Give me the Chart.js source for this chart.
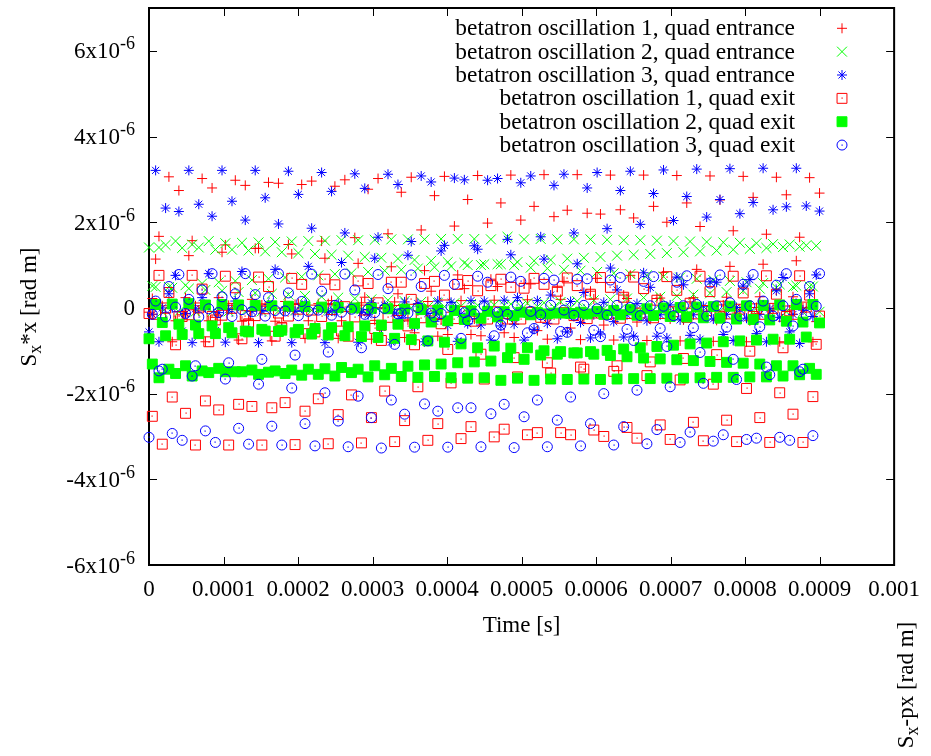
<!DOCTYPE html>
<html>
<head>
<meta charset="utf-8">
<style>
  html, body { margin: 0; padding: 0; background: #fff; }
  canvas { display: block; }
</style>
<script src="https://cdn.jsdelivr.net/npm/chart.js@4.4.1/dist/chart.umd.min.js"></script>
</head>
<body>
<canvas id="chart" width="931" height="756"></canvas>
<script>
// time between two recorded turns [s]; the value arrays are in units of 1e-6 rad m
const DT = 4.455e-6;
const Y_UNIT = 1e-6;

const X_TICKS = [0, 0.0001, 0.0002, 0.0003, 0.0004, 0.0005, 0.0006, 0.0007, 0.0008, 0.0009, 0.001];
const X_TICK_LABELS = ['0', '0.0001', '0.0002', '0.0003', '0.0004', '0.0005', '0.0006', '0.0007', '0.0008', '0.0009', '0.001'];
const Y_TICKS = [-6e-6, -4e-6, -2e-6, 0, 2e-6, 4e-6, 6e-6];
const Y_TICK_MANTISSAS = ['-6', '-4', '-2', '0', '2', '4', '6'];
const Y_TICK_EXPONENT = '-6';

const SERIES_NAMES = [
  'betatron oscillation 1, quad entrance',
  'betatron oscillation 2, quad entrance',
  'betatron oscillation 3, quad entrance',
  'betatron oscillation 1, quad exit',
  'betatron oscillation 2, quad exit',
  'betatron oscillation 3, quad exit'
];

// one turn per value, 10 turns per line
const ENTRANCE_1 = [
  -0.10, 0.22, 1.14, 1.67, 0.05, -0.12, 3.06, -0.79, -0.30, 2.74,
  -0.16, 0.24, 1.22, 1.57, 0.05, -0.07, 3.02, -0.79, -0.30, 2.80,
  -0.22, 0.24, 1.30, 1.47, 0.06, -0.02, 2.98, -0.75, -0.31, 2.86,
  -0.28, 0.20, 1.39, 1.39, 0.07, 0.04, 2.93, -0.77, -0.31, 2.91,
  -0.35, 0.15, 1.48, 1.26, 0.08, 0.10, 2.88, -0.71, -0.30, 2.96,
  -0.41, 0.10, 1.56, 1.16, 0.10, 0.17, 2.84, -0.71, -0.30, 2.99,
  -0.47, 0.04, 1.64, 1.04, 0.12, 0.25, 2.77, -0.73, -0.29, 3.02,
  -0.52, -0.02, 1.73, 0.96, 0.14, 0.33, 2.70, -0.69, -0.28, 3.05,
  -0.58, -0.07, 1.82, 0.87, 0.15, 0.39, 2.62, -0.66, -0.27, 3.07,
  -0.62, -0.10, 1.91, 0.77, 0.17, 0.45, 2.53, -0.62, -0.26, 3.09,
  -0.65, -0.13, 1.98, 0.67, 0.18, 0.50, 2.45, -0.58, -0.25, 3.10,
  -0.69, -0.16, 2.05, 0.57, 0.19, 0.56, 2.37, -0.53, -0.23, 3.11,
  -0.73, -0.19, 2.13, 0.48, 0.20, 0.62, 2.28, -0.47, -0.20, 3.11,
  -0.74, -0.22, 2.21, 0.39, 0.21, 0.69, 2.19, -0.40, -0.17, 3.10,
  -0.75, -0.24, 2.29, 0.30, 0.22, 0.76, 2.10, -0.33, -0.14, 3.10,
  -0.76, -0.26, 2.37, 0.22, 0.23, 0.83, 2.00, -0.26, -0.11, 3.09,
  -0.77, -0.28, 2.45, 0.14, 0.24, 0.90, 1.90, -0.19, -0.08, 3.08,
  -0.78, -0.29, 2.52, 0.07, 0.25, 0.97, 1.80, -0.12, -0.05, 3.07,
  -0.79, -0.30, 2.58, 0.01, 0.26, 1.02, 1.72, -0.06, -0.02, 3.05,
  -0.79, -0.31, 2.64, -0.05, 0.26, 1.10, 1.65, 0.00, 0.00, 3.04,
  -0.79, -0.32, 2.68
];

const ENTRANCE_2 = [
  1.41, 0.51, 0.49, 1.41, -0.09, 1.47, 0.49, 0.47, 1.56, -0.09,
  1.40, 0.53, 0.45, 1.48, -0.09, 1.41, 0.57, 0.42, 1.56, -0.09,
  1.36, 0.60, 0.40, 1.51, -0.08, 1.36, 0.63, 0.37, 1.52, -0.08,
  1.34, 0.65, 0.35, 1.53, -0.08, 1.32, 0.68, 0.33, 1.54, -0.07,
  1.30, 0.71, 0.31, 1.55, -0.06, 1.28, 0.73, 0.28, 1.56, -0.06,
  1.26, 0.76, 0.26, 1.57, -0.05, 1.24, 0.79, 0.24, 1.58, -0.04,
  1.22, 0.81, 0.22, 1.58, -0.03, 1.19, 0.84, 0.20, 1.59, -0.02,
  1.17, 0.87, 0.18, 1.60, -0.01, 1.15, 0.89, 0.16, 1.60, 0.00,
  1.12, 0.92, 0.14, 1.60, 0.02, 1.10, 0.95, 0.12, 1.61, 0.03,
  1.07, 0.97, 0.11, 1.61, 0.04, 1.05, 1.00, 0.09, 1.61, 0.06,
  1.00, 1.02, 0.07, 1.60, 0.07, 1.02, 1.02, 0.06, 1.66, 0.09,
  1.00, 1.07, 0.04, 1.60, 0.11, 0.94, 1.10, 0.03, 1.61, 0.12,
  0.92, 1.12, 0.02, 1.60, 0.14, 0.89, 1.15, 0.00, 1.60, 0.16,
  0.87, 1.17, -0.01, 1.60, 0.18, 0.84, 1.19, -0.02, 1.59, 0.20,
  0.81, 1.22, -0.03, 1.58, 0.22, 0.79, 1.24, -0.04, 1.58, 0.24,
  0.76, 1.26, -0.05, 1.57, 0.26, 0.73, 1.28, -0.06, 1.56, 0.28,
  0.71, 1.30, -0.06, 1.55, 0.31, 0.68, 1.32, -0.07, 1.54, 0.34,
  0.65, 1.34, -0.08, 1.53, 0.37, 0.63, 1.36, -0.08, 1.52, 0.40,
  0.60, 1.38, -0.08, 1.51, 0.45, 0.58, 1.40, -0.09, 1.49, 0.47,
  0.55, 1.42, -0.09, 1.48, 0.49, 0.52, 1.43, -0.09, 1.46, 0.50,
  0.50, 1.45, -0.09
];

const ENTRANCE_3 = [
  -0.56, -0.15, 3.21, -0.79, 0.00, 2.33, 0.33, 0.00, 0.76, 2.25,
  -0.54, -0.13, 3.21, -0.81, -0.02, 2.42, 0.24, 0.02, 0.80, 2.14,
  -0.53, -0.11, 3.21, -0.80, -0.04, 2.49, 0.16, 0.04, 0.85, 2.05,
  -0.52, -0.08, 3.21, -0.81, -0.06, 2.57, 0.08, 0.06, 0.90, 1.96,
  -0.50, -0.05, 3.19, -0.81, -0.08, 2.65, 0.00, 0.08, 0.97, 1.86,
  -0.49, -0.02, 3.16, -0.81, -0.10, 2.72, -0.08, 0.10, 1.06, 1.75,
  -0.47, 0.02, 3.13, -0.80, -0.11, 2.79, -0.16, 0.12, 1.16, 1.65,
  -0.45, 0.06, 3.12, -0.80, -0.12, 2.88, -0.24, 0.14, 1.23, 1.55,
  -0.43, 0.10, 3.08, -0.79, -0.13, 2.94, -0.31, 0.16, 1.33, 1.46,
  -0.41, 0.13, 3.03, -0.78, -0.14, 2.99, -0.37, 0.17, 1.45, 1.37,
  -0.40, 0.16, 2.98, -0.75, -0.15, 3.02, -0.42, 0.18, 1.60, 1.24,
  -0.38, 0.24, 2.92, -0.75, -0.15, 3.08, -0.50, 0.17, 1.66, 1.14,
  -0.36, 0.30, 2.86, -0.72, -0.16, 3.12, -0.56, 0.15, 1.75, 1.03,
  -0.34, 0.36, 2.80, -0.70, -0.16, 3.16, -0.61, 0.13, 1.85, 0.93,
  -0.32, 0.42, 2.74, -0.68, -0.16, 3.19, -0.66, 0.10, 1.95, 0.82,
  -0.30, 0.48, 2.67, -0.66, -0.16, 3.22, -0.70, 0.07, 2.04, 0.72,
  -0.28, 0.54, 2.60, -0.64, -0.16, 3.24, -0.73, 0.04, 2.12, 0.61,
  -0.26, 0.60, 2.53, -0.62, -0.15, 3.25, -0.76, 0.01, 2.20, 0.51,
  -0.24, 0.66, 2.46, -0.60, -0.15, 3.26, -0.79, -0.02, 2.29, 0.40,
  -0.22, 0.71, 2.36, -0.56, -0.15, 3.26, -0.83, -0.05, 2.38, 0.33,
  -0.20, 0.77, 2.26
];

const EXIT_1 = [
  -0.13, -2.53, -0.15, 0.76, -3.18, 0.00, 0.36, -2.08, -0.86, -0.20,
  -0.20, -2.46, -0.16, 0.76, -3.20, 0.00, 0.44, -2.17, -0.79, -0.20,
  -0.28, -2.38, -0.17, 0.74, -3.20, -0.01, 0.47, -2.25, -0.72, -0.18,
  -0.37, -2.30, -0.18, 0.72, -3.20, -0.02, 0.50, -2.33, -0.66, -0.12,
  -0.46, -2.21, -0.19, 0.69, -3.19, -0.03, 0.55, -2.41, -0.60, -0.05,
  -0.56, -2.12, -0.20, 0.67, -3.17, -0.04, 0.54, -2.49, -0.54, 0.03,
  -0.66, -2.03, -0.21, 0.63, -3.15, -0.05, 0.57, -2.56, -0.48, 0.12,
  -0.76, -1.94, -0.22, 0.60, -3.12, -0.06, 0.60, -2.63, -0.42, 0.20,
  -0.86, -1.84, -0.23, 0.57, -3.09, -0.07, 0.62, -2.70, -0.37, 0.30,
  -0.97, -1.75, -0.25, 0.55, -3.05, -0.08, 0.64, -2.77, -0.31, 0.40,
  -1.08, -1.66, -0.26, 0.52, -3.01, -0.09, 0.67, -2.83, -0.26, 0.48,
  -1.16, -1.61, -0.26, 0.46, -2.96, -0.10, 0.69, -2.91, -0.22, 0.55,
  -1.28, -1.52, -0.26, 0.39, -2.91, -0.11, 0.70, -2.96, -0.18, 0.52,
  -1.38, -1.43, -0.25, 0.32, -2.85, -0.12, 0.71, -3.00, -0.15, 0.48,
  -1.48, -1.35, -0.24, 0.25, -2.79, -0.13, 0.72, -3.04, -0.12, 0.45,
  -1.58, -1.26, -0.23, 0.18, -2.73, -0.13, 0.73, -3.07, -0.09, 0.41,
  -1.68, -1.18, -0.22, 0.11, -2.67, -0.14, 0.74, -3.10, -0.06, 0.38,
  -1.78, -1.09, -0.21, 0.04, -2.62, -0.14, 0.74, -3.12, -0.03, 0.35,
  -1.88, -1.01, -0.20, -0.02, -2.56, -0.15, 0.75, -3.14, -0.01, 0.32,
  -1.98, -0.93, -0.20, -0.07, -2.48, -0.15, 0.75, -3.14, 0.02, 0.30,
  -2.07, -0.85, -0.19
];

const EXIT_2 = [
  -0.72, -1.31, 0.08, -1.63, -0.34, -0.65, -1.43, 0.09, -1.53, -0.38,
  -0.62, -1.35, 0.10, -1.59, -0.40, -0.60, -1.47, 0.07, -1.51, -0.42,
  -0.60, -1.41, 0.08, -1.49, -0.46, -0.58, -1.49, 0.07, -1.49, -0.54,
  -0.56, -1.45, 0.06, -1.55, -0.50, -0.54, -1.50, 0.05, -1.47, -0.55,
  -0.52, -1.53, 0.04, -1.45, -0.58, -0.50, -1.57, 0.03, -1.43, -0.61,
  -0.48, -1.55, 0.02, -1.42, -0.63, -0.46, -1.59, 0.01, -1.39, -0.65,
  -0.44, -1.51, 0.00, -1.43, -0.67, -0.42, -1.61, -0.01, -1.35, -0.69,
  -0.40, -1.56, -0.02, -1.41, -0.71, -0.38, -1.60, -0.03, -1.36, -0.74,
  -0.36, -1.62, -0.04, -1.33, -0.77, -0.33, -1.60, -0.05, -1.31, -0.80,
  -0.30, -1.63, -0.06, -1.28, -0.84, -0.27, -1.64, -0.07, -1.26, -0.93,
  -0.24, -1.63, -0.08, -1.24, -0.89, -0.21, -1.69, -0.09, -1.16, -0.94,
  -0.18, -1.64, -0.10, -1.20, -0.93, -0.16, -1.69, -0.11, -1.10, -1.00,
  -0.14, -1.66, -0.12, -1.08, -1.02, -0.12, -1.67, -0.13, -1.05, -1.05,
  -0.10, -1.66, -0.14, -1.02, -1.08, -0.08, -1.67, -0.15, -0.99, -1.11,
  -0.06, -1.66, -0.16, -0.96, -1.14, -0.04, -1.65, -0.17, -0.93, -1.17,
  -0.02, -1.65, -0.18, -0.90, -1.19, 0.00, -1.64, -0.20, -0.87, -1.21,
  0.01, -1.64, -0.21, -0.84, -1.23, 0.02, -1.63, -0.23, -0.82, -1.25,
  0.03, -1.62, -0.24, -0.79, -1.27, 0.04, -1.62, -0.26, -0.77, -1.29,
  0.05, -1.61, -0.27, -0.75, -1.31, 0.06, -1.61, -0.28, -0.73, -1.35,
  0.07, -1.59, -0.31, -0.73, -1.35, 0.08, -1.56, -0.33, -0.68, -1.41,
  0.08, -1.55, -0.35
];

const EXIT_3 = [
  -3.02, -0.15, 0.16, -1.47, -1.43, -0.21, 0.50, -2.93, 0.02, 0.78,
  -3.09, -0.13, 0.20, -1.59, -1.35, -0.21, 0.42, -2.87, -0.02, 0.80,
  -3.14, -0.11, 0.26, -1.66, -1.28, -0.20, 0.33, -2.81, -0.04, 0.80,
  -3.18, -0.09, 0.31, -1.78, -1.20, -0.19, 0.24, -2.76, -0.06, 0.80,
  -3.20, -0.07, 0.35, -1.87, -1.10, -0.18, 0.15, -2.70, -0.08, 0.79,
  -3.22, -0.05, 0.39, -1.98, -1.03, -0.17, 0.06, -2.64, -0.10, 0.79,
  -3.24, -0.03, 0.42, -2.06, -0.93, -0.15, -0.03, -2.56, -0.11, 0.78,
  -3.27, -0.01, 0.45, -2.15, -0.85, -0.14, -0.12, -2.48, -0.12, 0.77,
  -3.25, 0.01, 0.50, -2.24, -0.77, -0.12, -0.21, -2.41, -0.13, 0.76,
  -3.25, 0.03, 0.55, -2.33, -0.71, -0.11, -0.30, -2.33, -0.14, 0.74,
  -3.24, 0.05, 0.60, -2.47, -0.65, -0.10, -0.40, -2.25, -0.15, 0.72,
  -3.26, 0.06, 0.62, -2.54, -0.58, -0.08, -0.48, -2.15, -0.16, 0.69,
  -3.24, 0.06, 0.65, -2.62, -0.55, -0.05, -0.57, -2.08, -0.17, 0.67,
  -3.22, 0.06, 0.68, -2.70, -0.52, -0.02, -0.67, -2.00, -0.17, 0.65,
  -3.20, 0.06, 0.71, -2.77, -0.50, 0.01, -0.76, -1.92, -0.18, 0.62,
  -3.17, 0.05, 0.73, -2.84, -0.48, 0.04, -0.90, -1.84, -0.18, 0.60,
  -3.14, 0.05, 0.75, -2.90, -0.46, 0.08, -1.04, -1.76, -0.19, 0.58,
  -3.11, 0.05, 0.77, -2.96, -0.45, 0.12, -1.20, -1.67, -0.19, 0.55,
  -3.07, 0.05, 0.78, -3.04, -0.44, 0.16, -1.38, -1.56, -0.19, 0.53,
  -3.02, 0.05, 0.80, -3.09, -0.42, 0.20, -1.49, -1.43, -0.17, 0.50,
  -2.98, 0.04, 0.80
];

const FONT = "'Liberation Serif', 'Times New Roman', serif";

function toPoints(values) {
  return values.map((v, i) => ({ x: i * DT, y: v * Y_UNIT }));
}

// open box / open circle get a small dot in the middle, like gnuplot's point types 4 and 6 with dots
const datasets = [
  { data: toPoints(ENTRANCE_1), pointStyle: 'cross', pointRadius: 5, borderColor: '#ff0000', backgroundColor: '#ff0000', order: 6 },
  { data: toPoints(ENTRANCE_2), pointStyle: 'crossRot', pointRadius: 7, borderColor: '#00ff00', backgroundColor: '#00ff00', order: 5 },
  { data: toPoints(ENTRANCE_3), pointStyle: 'star', pointRadius: 5, borderColor: '#0000ff', backgroundColor: '#0000ff', order: 4 },
  { data: toPoints(EXIT_1), pointStyle: 'rect', pointRadius: 7, borderColor: '#ff0000', backgroundColor: 'rgba(0,0,0,0)', centerDot: true, order: 3 },
  { data: toPoints(EXIT_2), pointStyle: 'rect', pointRadius: 7, borderColor: '#00ff00', backgroundColor: '#00ff00', order: 2 },
  { data: toPoints(EXIT_3), pointStyle: 'circle', pointRadius: 5, borderColor: '#0000ff', backgroundColor: 'rgba(0,0,0,0)', centerDot: true, order: 1 }
].map((d, i) => Object.assign(d, { label: SERIES_NAMES[i], pointBorderWidth: 1, borderWidth: 1, showLine: false, clip: false }));

// draws a run of text pieces with different sizes / baseline shifts
function richText(ctx, parts, x, y, align) {
  let total = 0;
  parts.forEach(p => {
    ctx.font = p.size + 'px ' + FONT;
    p.w = ctx.measureText(p.t).width;
    total += p.w;
  });
  let cx = align === 'right' ? x - total : align === 'center' ? x - total / 2 : x;
  ctx.textAlign = 'left';
  ctx.textBaseline = 'alphabetic';
  parts.forEach(p => {
    ctx.font = p.size + 'px ' + FONT;
    ctx.fillText(p.t, cx, y + (p.dy || 0));
    cx += p.w;
  });
}

function dot(ctx, x, y, color) {
  ctx.fillStyle = color;
  ctx.fillRect(Math.round(x) - 0.5, Math.round(y) - 0.5, 1.2, 1.2);
}

const framePlugin = {
  id: 'frame',
  beforeDatasetsDraw(chart) {
    const { ctx, chartArea: a, scales: { x, y } } = chart;
    ctx.save();
    ctx.strokeStyle = '#000';
    ctx.lineWidth = 1;
    ctx.beginPath();
    x.ticks.forEach(t => {
      const px = Math.round(x.getPixelForValue(t.value)) + 0.5;
      ctx.moveTo(px, a.bottom); ctx.lineTo(px, a.bottom - 8);
      ctx.moveTo(px, a.top); ctx.lineTo(px, a.top + 8);
    });
    y.ticks.forEach(t => {
      const py = Math.round(y.getPixelForValue(t.value)) + 0.5;
      ctx.moveTo(a.left, py); ctx.lineTo(a.left + 8, py);
      ctx.moveTo(a.right, py); ctx.lineTo(a.right - 8, py);
    });
    ctx.stroke();
    ctx.lineWidth = 2;
    ctx.strokeRect(a.left, a.top, a.right - a.left, a.bottom - a.top);
    ctx.restore();
  },
  afterDatasetDraw(chart, args) {
    const ds = chart.data.datasets[args.index];
    if (!ds.centerDot) return;
    const ctx = chart.ctx;
    ctx.save();
    args.meta.data.forEach(pt => dot(ctx, pt.x, pt.y, ds.borderColor));
    ctx.restore();
  }
};

const textPlugin = {
  id: 'texts',
  afterDraw(chart) {
    const { ctx, chartArea: a, scales: { y } } = chart;
    ctx.save();
    ctx.fillStyle = '#000';

    // y tick labels with exponent
    Y_TICKS.forEach((v, i) => {
      const py = y.getPixelForValue(v);
      const m = Y_TICK_MANTISSAS[i];
      const parts = m === '0'
        ? [{ t: '0', size: 23 }]
        : [{ t: m + 'x10', size: 23 }, { t: Y_TICK_EXPONENT, size: 18, dy: -9 }];
      richText(ctx, parts, 135, py + 7.5, 'right');
    });

    // x axis title
    richText(ctx, [{ t: 'Time [s]', size: 23 }], (a.left + a.right) / 2, 632, 'center');

    // y axis title
    ctx.save();
    ctx.translate(29, 307);
    ctx.rotate(-Math.PI / 2);
    richText(ctx, [{ t: 'S', size: 23 }, { t: 'x', size: 18, dy: 5 }, { t: '*x [rad m]', size: 23 }], 0, 7, 'center');
    ctx.restore();

    // second axis title left at the bottom right
    ctx.save();
    ctx.translate(906, 685);
    ctx.rotate(-Math.PI / 2);
    richText(ctx, [{ t: 'S', size: 23 }, { t: 'x', size: 18, dy: 5 }, { t: '-px [rad m]', size: 23 }], 0, 7, 'center');
    ctx.restore();

    // key, inside the plot at the top right
    chart.data.datasets.forEach((ds, i) => {
      const rowY = 28.3 + i * 23.35;
      ctx.fillStyle = '#000';
      richText(ctx, [{ t: ds.label, size: 23.4 }], 795, rowY + 7, 'right');
      ctx.strokeStyle = ds.borderColor;
      ctx.fillStyle = ds.backgroundColor;
      ctx.lineWidth = 1;
      Chart.helpers.drawPoint(ctx, { pointStyle: ds.pointStyle, radius: ds.pointRadius, borderWidth: 1, rotation: 0 }, 842, rowY);
      if (ds.centerDot) dot(ctx, 842, rowY, ds.borderColor);
    });
    ctx.restore();
  }
};

new Chart(document.getElementById('chart').getContext('2d'), {
  type: 'scatter',
  data: { datasets },
  options: {
    responsive: false,
    animation: false,
    devicePixelRatio: 1,
    events: [],
    layout: { padding: { top: 7, right: 27, left: 0, bottom: 0 } },
    plugins: { legend: { display: false }, tooltip: { enabled: false } },
    scales: {
      x: {
        type: 'linear',
        min: 0,
        max: 0.001,
        afterBuildTicks: s => { s.ticks = X_TICKS.map(v => ({ value: v })); },
        afterFit: s => { s.height = 191; },
        ticks: {
          autoSkip: false,
          maxRotation: 0,
          padding: 11,
          color: '#000',
          font: { family: FONT, size: 23 },
          callback: (v, i) => X_TICK_LABELS[i]
        },
        grid: { display: false, drawTicks: false },
        border: { display: false }
      },
      y: {
        type: 'linear',
        min: -6e-6,
        max: 7e-6,
        afterBuildTicks: s => { s.ticks = Y_TICKS.map(v => ({ value: v })); },
        afterFit: s => { s.width = 149; },
        ticks: { display: false },
        grid: { display: false, drawTicks: false },
        border: { display: false }
      }
    }
  },
  plugins: [framePlugin, textPlugin]
});
</script>
</body>
</html>
